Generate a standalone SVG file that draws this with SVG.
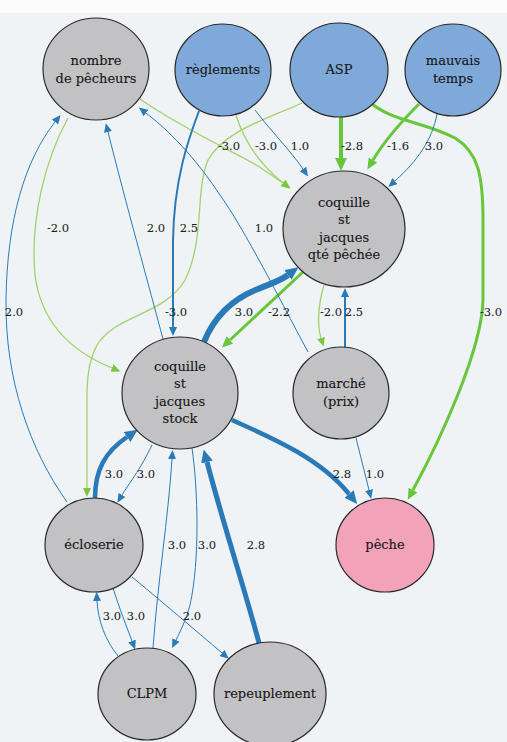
<svg xmlns="http://www.w3.org/2000/svg" width="507" height="742" viewBox="0 0 507 742">
<defs>
<style>
.nd{stroke:#2a2a2a;stroke-width:1.2}
.g{fill:#c2c2c4}
.b{fill:#7fa9d8}
.p{fill:#f2a3ba}
.nt{font-family:'DejaVu Serif','Liberation Serif',serif;font-size:13px;fill:#161616;stroke:#161616;stroke-width:0.12;text-anchor:middle}
.lb{font-family:'DejaVu Serif','Liberation Serif',serif;font-size:11.5px;fill:#1e1e1e;stroke:#1e1e1e;stroke-width:0.08;text-anchor:middle}
.e{fill:none}
.bl{stroke:#2a7ab8}
.gr{stroke:#68c63a}
.lg{stroke:#a3d16b}
</style>
<marker id="mb" markerWidth="10" markerHeight="8" refX="0" refY="4" orient="auto" markerUnits="userSpaceOnUse"><path d="M0,0 L9,4 L0,8 z" fill="#2a7ab8"/></marker>
<marker id="mbL" markerWidth="14" markerHeight="12" refX="0" refY="6" orient="auto" markerUnits="userSpaceOnUse"><path d="M0,0 L13,6 L0,12 z" fill="#2a7ab8"/></marker>
<marker id="mg" markerWidth="12" markerHeight="10" refX="0" refY="5" orient="auto" markerUnits="userSpaceOnUse"><path d="M0,0 L11,5 L0,10 z" fill="#68c63a"/></marker>
<marker id="mgL" markerWidth="14" markerHeight="12" refX="0" refY="6" orient="auto" markerUnits="userSpaceOnUse"><path d="M0,0 L13,6 L0,12 z" fill="#68c63a"/></marker>
<marker id="ml" markerWidth="10" markerHeight="8" refX="0" refY="4" orient="auto" markerUnits="userSpaceOnUse"><path d="M0,0 L9,4 L0,8 z" fill="#7cc640"/></marker>
</defs>
<rect x="0" y="0" width="507" height="742" fill="#eff3f6"/>
<rect x="0" y="0" width="507" height="13" fill="#fbfbfb"/>

<g id="connectors">
<path class="e lg" stroke-width="1.3" d="M140,99 C180,127 230,150 258,166 L283,183" marker-end="url(#ml)"/>
<path class="e lg" stroke-width="1.3" d="M236,115 C242,135 255,160 283,183" marker-end="url(#ml)"/>
<path class="e lg" stroke-width="1.3" d="M302,103 C270,118 225,130 208,160 C195,190 205,240 185,280 C165,315 115,315 97,345 C88,362 87,380 87,400 L87,488" marker-end="url(#ml)"/>
<path class="e lg" stroke-width="1.3" d="M68,118 C45,160 30,220 35,275 C42,330 80,355 112,368" marker-end="url(#ml)"/>
<path class="e lg" stroke-width="1.3" d="M324,285 C318,305 317,325 321,338" marker-end="url(#ml)"/>
<path class="e gr" stroke-width="4" d="M341,117 L341,158" marker-end="url(#mgL)"/>
<path class="e gr" stroke-width="3" d="M419,104 C405,118 385,140 373,160" marker-end="url(#mg)"/>
<path class="e gr" stroke-width="3" d="M372,104 C395,122 425,122 455,138 C478,152 483,175 483,220 L483,300 C482,350 440,440 413,490" marker-end="url(#mg)"/>
<path class="e gr" stroke-width="3" d="M303,272 L230,340" marker-end="url(#mg)"/>
<path class="e bl" stroke-width="1" d="M255,110 C270,130 290,150 303,169" marker-end="url(#mb)"/>
<path class="e bl" stroke-width="1" d="M437,114 C432,140 418,160 395,181" marker-end="url(#mb)"/>
<path class="e bl" stroke-width="2" d="M199,111 C188,140 174,180 173,240 L173,327" marker-end="url(#mb)"/>
<path class="e bl" stroke-width="1" d="M163,339 C150,290 125,200 108,132" marker-end="url(#mb)"/>
<path class="e bl" stroke-width="1" d="M67,502 C30,450 5,380 6,300 C7,220 25,160 55,122" marker-end="url(#mb)"/>
<path class="e bl" stroke-width="1" d="M308,352 C280,300 245,230 220,195 C200,165 175,135 146,113" marker-end="url(#mb)"/>
<path class="e bl" stroke-width="6" d="M204,342 C215,315 235,298 258,289 C272,283 280,281 288,275" marker-end="url(#mbL)"/>
<path class="e bl" stroke-width="2" d="M345,347 L345,297" marker-end="url(#mb)"/>
<path class="e bl" stroke-width="4.5" d="M232,420 C270,437 320,458 349,494" marker-end="url(#mbL)"/>
<path class="e bl" stroke-width="1" d="M356,438 L369,490" marker-end="url(#mb)"/>
<path class="e bl" stroke-width="4.5" d="M95,498 C95,470 105,452 127,437" marker-end="url(#mbL)"/>
<path class="e bl" stroke-width="1" d="M152,445 C140,470 128,485 122,495" marker-end="url(#mb)"/>
<path class="e bl" stroke-width="1" d="M118,656 C105,640 98,620 97,601" marker-end="url(#mb)"/>
<path class="e bl" stroke-width="1" d="M113,588 C120,610 126,625 132,641" marker-end="url(#mb)"/>
<path class="e bl" stroke-width="1" d="M132,577 C160,600 195,630 222,653" marker-end="url(#mb)"/>
<path class="e bl" stroke-width="1" d="M153,648 C158,580 168,520 172,459" marker-end="url(#mb)"/>
<path class="e bl" stroke-width="1" d="M192,448 C198,490 200,560 190,605 C186,620 180,632 176,640" marker-end="url(#mb)"/>
<path class="e bl" stroke-width="5" d="M259,643 C245,590 225,530 207,462" marker-end="url(#mbL)"/>
<g class="lb">
<text x="229" y="150">-3.0</text>
<text x="266" y="150">-3.0</text>
<text x="300" y="150">1.0</text>
<text x="352" y="150">-2.8</text>
<text x="398" y="150">-1.6</text>
<text x="434" y="150">3.0</text>
<text x="58" y="232">-2.0</text>
<text x="156" y="232">2.0</text>
<text x="189" y="232">2.5</text>
<text x="264" y="232">1.0</text>
<text x="14" y="316">2.0</text>
<text x="176" y="316">-3.0</text>
<text x="244" y="316">3.0</text>
<text x="279" y="316">-2.2</text>
<text x="331" y="316">-2.0</text>
<text x="354" y="316">2.5</text>
<text x="491" y="316">-3.0</text>
<text x="114" y="478">3.0</text>
<text x="146" y="478">3.0</text>
<text x="342" y="478">2.8</text>
<text x="375" y="478">1.0</text>
<text x="177" y="549">3.0</text>
<text x="207" y="549">3.0</text>
<text x="256" y="549">2.8</text>
<text x="112" y="620">3.0</text>
<text x="136" y="620">3.0</text>
<text x="192" y="620">2.0</text>
</g>
</g>

<g id="nombre"><ellipse class="nd g" cx="96" cy="69" rx="53" ry="51"/><text class="nt" x="96" y="65">nombre</text><text class="nt" x="96" y="83">de pêcheurs</text></g>
<g id="reglements"><ellipse class="nd b" cx="223" cy="70" rx="48" ry="46"/><text class="nt" x="223" y="74">règlements</text></g>
<g id="asp"><ellipse class="nd b" cx="339" cy="70" rx="49" ry="47"/><text class="nt" x="339" y="74">ASP</text></g>
<g id="mauvais"><ellipse class="nd b" cx="453" cy="70" rx="48" ry="46"/><text class="nt" x="453" y="65">mauvais</text><text class="nt" x="453" y="83">temps</text></g>
<g id="qte"><ellipse class="nd g" cx="344" cy="229" rx="61" ry="58"/><text class="nt" x="344" y="207">coquille</text><text class="nt" x="344" y="224">st</text><text class="nt" x="344" y="242">jacques</text><text class="nt" x="344" y="259">qté pêchée</text></g>
<g id="stock"><ellipse class="nd g" cx="180" cy="393" rx="58" ry="56"/><text class="nt" x="180" y="371">coquille</text><text class="nt" x="180" y="388">st</text><text class="nt" x="180" y="406">jacques</text><text class="nt" x="180" y="423">stock</text></g>
<g id="marche"><ellipse class="nd g" cx="341" cy="393" rx="48" ry="46"/><text class="nt" x="341" y="388">marché</text><text class="nt" x="341" y="406">(prix)</text></g>
<g id="ecloserie"><ellipse class="nd g" cx="94" cy="545" rx="49" ry="47"/><text class="nt" x="94" y="549">écloserie</text></g>
<g id="peche"><ellipse class="nd p" cx="385" cy="545" rx="49" ry="47"/><text class="nt" x="385" y="549">pêche</text></g>
<g id="clpm"><ellipse class="nd g" cx="147" cy="694" rx="49" ry="46"/><text class="nt" x="147" y="698">CLPM</text></g>
<g id="repeuplement"><ellipse class="nd g" cx="270" cy="694" rx="56" ry="52"/><text class="nt" x="270" y="698">repeuplement</text></g>
</svg>
